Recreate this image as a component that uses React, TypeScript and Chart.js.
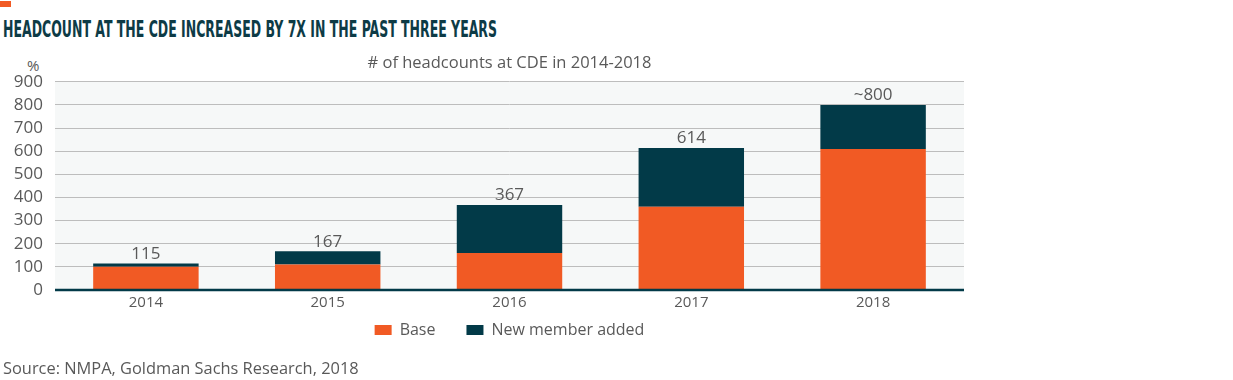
import React, { useEffect, useRef } from "react";
import { Chart, registerables } from "chart.js";

Chart.register(...registerables);

const categories = ["2014", "2015", "2016", "2017", "2018"];
const baseValues = [100, 110, 160, 360, 610];
const addedValues = [15, 57, 207, 254, 190];
const totalLabels = ["115", "167", "367", "614", "~800"];
const yTicks = [0, 100, 200, 300, 400, 500, 600, 700, 800, 900];

const ORANGE = "#f15a24";
const TEAL = "#023a48";
const GREY_TEXT = "#595959";
const FONT = "'Open Sans', Lato, sans-serif";

const plotBgPlugin = {
  id: "plotBg",
  beforeDraw(chart: any) {
    const { ctx, chartArea } = chart;
    ctx.save();
    ctx.fillStyle = "#f6f8f8";
    ctx.fillRect(chartArea.left, chartArea.top, chartArea.right - chartArea.left, chartArea.bottom - chartArea.top);
    ctx.restore();
  },
};

// center title and legend on the plot area; place legend under the x labels
const placeBoxesPlugin = {
  id: "placeBoxes",
  afterLayout(chart: any) {
    const { chartArea } = chart;
    const mid = (chartArea.left + chartArea.right) / 2;
    [chart.titleBlock, chart.legend].forEach((box: any) => {
      if (!box) return;
      const boxMid = (box.left + box.right) / 2;
      const dx = mid - boxMid;
      box.left += dx;
      box.right += dx;
    });
    const lg = chart.legend;
    if (lg) {
      const h = lg.bottom - lg.top;
      lg.top = chartArea.bottom + 1;
      lg.bottom = lg.top + h;
    }
  },
};

const totalsPlugin = {
  id: "totals",
  afterDatasetsDraw(chart: any) {
    const { ctx } = chart;
    const x = chart.scales.x;
    const y = chart.scales.y;
    ctx.save();
    ctx.fillStyle = GREY_TEXT;
    ctx.font = `17px ${FONT}`;
    ctx.textAlign = "center";
    ctx.textBaseline = "bottom";
    categories.forEach((c, i) => {
      const total = baseValues[i] + addedValues[i];
      ctx.fillText(totalLabels[i], x.getPixelForValue(i), y.getPixelForValue(total) - 1);
    });
    ctx.restore();
  },
};

const axisLinePlugin = {
  id: "axisLine",
  afterDatasetsDraw(chart: any) {
    const { ctx, chartArea } = chart;
    const y0 = chart.scales.y.getPixelForValue(0);
    ctx.save();
    ctx.strokeStyle = TEAL;
    ctx.lineWidth = 2.5;
    ctx.beginPath();
    ctx.moveTo(chartArea.left, y0);
    ctx.lineTo(chartArea.right, y0);
    ctx.stroke();
    ctx.restore();
  },
};

export default function App() {
  const canvasRef = useRef<HTMLCanvasElement>(null);
  const titleRef = useRef<HTMLSpanElement>(null);

  useEffect(() => {
    document.body.style.margin = "0";
    if (titleRef.current) {
      const w = titleRef.current.getBoundingClientRect().width;
      if (w > 0) titleRef.current.style.transform = `scaleX(${494 / w})`;
    }
    const chart = new Chart(canvasRef.current as HTMLCanvasElement, {
      type: "bar",
      data: {
        labels: categories,
        datasets: [
          { label: "Base", data: baseValues, backgroundColor: ORANGE, borderWidth: 0 },
          { label: "New member added", data: addedValues, backgroundColor: TEAL, borderWidth: 0 },
        ],
      },
      options: {
        animation: false,
        responsive: false,
        maintainAspectRatio: false,
        layout: { padding: { left: 0, right: 269, top: 0, bottom: 22 } },
        datasets: { bar: { categoryPercentage: 1, barPercentage: 0.58 } },
        plugins: {
          title: {
            display: true,
            text: "# of headcounts at CDE in 2014-2018",
            color: GREY_TEXT,
            font: { family: FONT, size: 16.5, weight: "normal" },
            padding: { top: 3, bottom: 9 },
          },
          legend: {
            position: "bottom",
            labels: {
              boxWidth: 17,
              boxHeight: 10,
              padding: 31,
              color: GREY_TEXT,
              font: { family: FONT, size: 16 },
            },
          },
          tooltip: { enabled: false },
        },
        scales: {
          x: {
            stacked: true,
            grid: { display: false, drawTicks: false },
            border: { display: false },
            ticks: { color: GREY_TEXT, font: { family: FONT, size: 15 }, padding: 4, maxRotation: 0 },
          },
          y: {
            stacked: true,
            min: 0,
            max: 900,
            afterFit(scale: any) {
              scale.width = 55;
            },
            afterBuildTicks(scale: any) {
              scale.ticks = yTicks.map((v) => ({ value: v }));
            },
            grid: { color: "#bdbdbd", lineWidth: 1, drawTicks: false },
            border: { display: false },
            ticks: { color: GREY_TEXT, font: { family: FONT, size: 17 }, padding: 12, autoSkip: false },
          },
        },
      },
      plugins: [plotBgPlugin, placeBoxesPlugin, totalsPlugin, axisLinePlugin],
    } as any);
    return () => chart.destroy();
  }, []);

  return (
    <div style={{ position: "relative", width: 1233, height: 380, background: "#fff", overflow: "hidden" }}>
      <div style={{ position: "absolute", left: 0, top: 1, width: 11, height: 6, background: ORANGE }} />
      <div style={{ position: "absolute", left: 3, top: 15, whiteSpace: "nowrap", lineHeight: "28px" }}>
        <span
          ref={titleRef}
          style={{
            display: "inline-block",
            transformOrigin: "left center",
            fontFamily: "'Liberation Sans Narrow', 'DejaVu Sans Condensed', sans-serif",
            fontWeight: 700,
            fontSize: 23,
            color: "#0d3b46",
          }}
        >
          HEADCOUNT AT THE CDE INCREASED BY 7X IN THE PAST THREE YEARS
        </span>
      </div>
      <div style={{ position: "absolute", left: 27, top: 55, fontFamily: FONT, fontSize: 15, color: GREY_TEXT }}>%</div>
      <canvas ref={canvasRef} width={1233} height={345} style={{ position: "absolute", left: 0, top: 50, width: 1233, height: 345 }} />
      <div style={{ position: "absolute", left: 3, top: 356, fontFamily: FONT, fontSize: 16.4, color: GREY_TEXT }}>
        Source: NMPA, Goldman Sachs Research, 2018
      </div>
    </div>
  );
}
